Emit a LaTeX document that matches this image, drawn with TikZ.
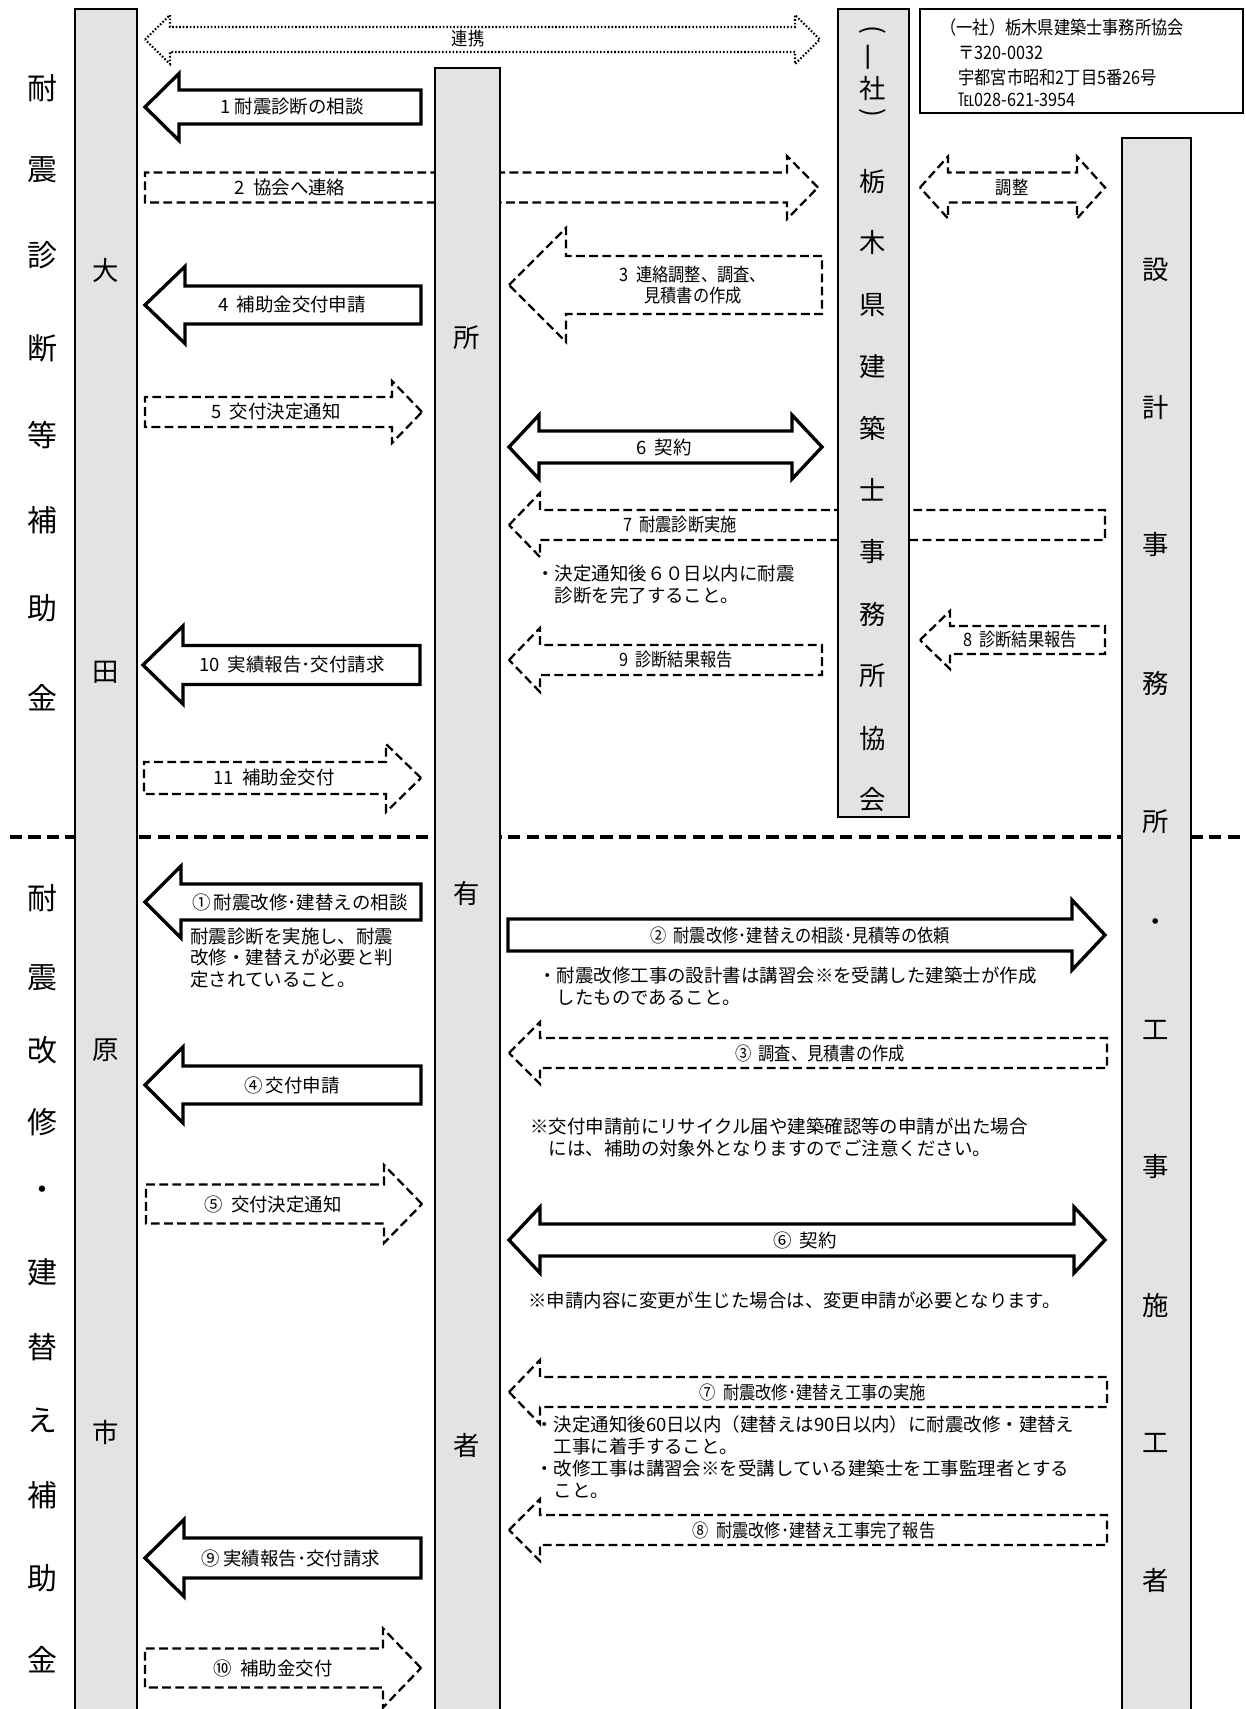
\documentclass[tikz,border=0pt]{standalone}
\usepackage{fontspec}
\setmainfont{Noto Sans CJK JP}
\newfontfamily\cond[FakeStretch=0.88]{Noto Sans CJK JP}
\usetikzlibrary{fit}
% block arrows: [style]{tip}{tail}{y}{shaft half}{head half}{head length}
\newcommand{\leftblk}[7][]{\draw[#1] (#2,#4) -- ({#2+#7},{#4-#6}) -- ({#2+#7},{#4-#5}) -- (#3,{#4-#5}) -- (#3,{#4+#5}) -- ({#2+#7},{#4+#5}) -- ({#2+#7},{#4+#6}) -- cycle;}
% [style]{tail}{tip}{y}{shaft half}{head half}{head length}
\newcommand{\rightblk}[7][]{\draw[#1] (#3,#4) -- ({#3-#7},{#4-#6}) -- ({#3-#7},{#4-#5}) -- (#2,{#4-#5}) -- (#2,{#4+#5}) -- ({#3-#7},{#4+#5}) -- ({#3-#7},{#4+#6}) -- cycle;}
% [style]{left tip}{right tip}{y}{shaft half}{head half}{head length}
\newcommand{\bothblk}[7][]{\draw[#1] (#2,#4) -- ({#2+#7},{#4-#6}) -- ({#2+#7},{#4-#5}) -- ({#3-#7},{#4-#5}) -- ({#3-#7},{#4-#6}) -- (#3,#4) -- ({#3-#7},{#4+#6}) -- ({#3-#7},{#4+#5}) -- ({#2+#7},{#4+#5}) -- ({#2+#7},{#4+#6}) -- cycle;}
\newcommand{\vparen}[1]{\rotatebox[origin=c]{-90}{#1}}

\begin{document}
\begin{tikzpicture}[x=0.02cm, y=-0.02cm,
	solidarr/.style={line width=1.9pt, fill=white, line join=miter},
	dasharr/.style={line width=1.3pt, fill=white, dash pattern=on 5pt off 2.5pt},
	dotarr/.style={line width=1.2pt, fill=white, dash pattern=on 0.9pt off 1.1pt},
	lbl/.style={font=\fontsize{10.5}{12}\selectfont, inner sep=0},
	clbl/.style={font={\cond\fontsize{10.5}{12}\selectfont}, inner sep=0},
	notetext/.style={font=\fontsize{10.5}{12.5}\selectfont, align=left, anchor=west, inner sep=0},
	colbar/.style={draw, line width=1pt, fill=gray!22, inner sep=0},
	colchar/.style={font=\fontsize{15}{15}\selectfont, inner sep=0},
	sidechar/.style={font=\fontsize{17}{17}\selectfont, inner sep=0},
	sepline/.style={line width=2pt, dash pattern=on 7pt off 3.5pt}]
	\clip (0,0) rectangle (1245,1709);

	% upper part: diagnosis
	\bothblk[dotarr]{145}{820}{39.5}{12.5}{24.5}{25}
	\node[clbl] (renkei) at (468,39) {連携};
	\leftblk[solidarr]{145}{421}{107}{17}{33.5}{34}
	\node[lbl] (u1) at (292,107) {1 耐震診断の相談};
	\rightblk[dasharr]{145}{818}{187.5}{15}{31.5}{31}
	\node[lbl] (u2) at (290,188) {2\ \ 協会へ連絡};
	\bothblk[dasharr]{920}{1105}{187.5}{15}{31}{28}
	\node[clbl] (chosei) at (1012,188) {調整};
	\leftblk[dasharr]{509}{822}{285}{29}{57}{57}
	\node[clbl, align=center] (u3) at (693,285) {3\ \ 連絡調整、調査、\\見積書の作成};
	\leftblk[solidarr]{145}{421}{305}{19}{38.5}{40}
	\node[lbl] (u4) at (292,305) {4\ \ 補助金交付申請};
	\rightblk[dasharr]{145}{422}{412}{15}{31}{30}
	\node[lbl] (u5) at (276,412) {5\ \ 交付決定通知};
	\bothblk[solidarr]{509}{822}{447}{16}{32}{30}
	\node[lbl] (u6) at (664,447) {6\ \ 契約};
	\leftblk[dasharr]{509}{1105}{525}{15}{32}{31}
	\node[clbl] (u7) at (680,525) {7\ \ 耐震診断実施};
	\node[notetext] (n7) at (536,585) {・決定通知後６０日以内に耐震\\\hspace*{1em}診断を完了すること。};
	\leftblk[dasharr]{920}{1105}{640}{14}{29}{30}
	\node[clbl] (u8) at (1020,640) {8\ \ 診断結果報告};
	\leftblk[dasharr]{509}{822}{660}{15}{32}{31}
	\node[clbl] (u9) at (676,660) {9\ \ 診断結果報告};
	\leftblk[solidarr]{143}{420}{665}{19.5}{39}{40}
	\node[lbl] (u10) at (292,665) {10\ \ 実績報告･交付請求};
	\rightblk[dasharr]{144}{421}{778}{16}{34}{35}
	\node[lbl] (u11) at (274,778) {11\ \ 補助金交付};

	% lower part: retrofit
	\leftblk[solidarr]{145}{421}{902}{18}{36}{36}
	\node[lbl] (l1) at (300,902) {①\,耐震改修･建替えの相談};
	\node[notetext] (n1) at (190,958) {耐震診断を実施し、耐震\\改修・建替えが必要と判\\定されていること。};
	\rightblk[solidarr]{508}{1105}{935}{16}{35}{33}
	\node[clbl] (l2) at (800,935) {②\ \ 耐震改修･建替えの相談･見積等の依頼};
	\node[notetext] (n2) at (538,986) {・耐震改修工事の設計書は講習会※を受講した建築士が作成\\\hspace*{1em}したものであること。};
	\leftblk[dasharr]{509}{1107}{1053}{15}{31}{31}
	\node[clbl] (l3) at (820,1053) {③\ \ 調査、見積書の作成};
	\leftblk[solidarr]{145}{421}{1085}{19}{38}{38}
	\node[lbl] (l4) at (292,1085) {④\,交付申請};
	\node[notetext] (n3) at (530,1137) {※交付申請前にリサイクル届や建築確認等の申請が出た場合\\\hspace*{1em}には、補助の対象外となりますのでご注意ください。};
	\rightblk[dasharr]{146}{422}{1204}{19.5}{39}{38}
	\node[lbl] (l5) at (273,1204) {⑤\ \ 交付決定通知};
	\bothblk[solidarr]{509}{1105}{1240}{16}{33}{31}
	\node[lbl] (l6) at (805,1240) {⑥\ \ 契約};
	\node[notetext] (n6) at (528,1300) {※申請内容に変更が生じた場合は、変更申請が必要となります。};
	\leftblk[dasharr]{509}{1107}{1392}{15}{32}{31}
	\node[clbl] (l7) at (813,1392) {⑦\ \ 耐震改修･建替え工事の実施};
	\node[notetext] (n7b) at (535,1457) {・決定通知後60日以内（建替えは90日以内）に耐震改修・建替え\\\hspace*{1em}工事に着手すること。\\・改修工事は講習会※を受講している建築士を工事監理者とする\\\hspace*{1em}こと。};
	\leftblk[dasharr]{509}{1107}{1530}{15}{31}{31}
	\node[clbl] (l8) at (814,1530) {⑧\ \ 耐震改修･建替え工事完了報告};
	\leftblk[solidarr]{145}{421}{1558}{20}{38.5}{39}
	\node[lbl] (l9) at (291,1558) {⑨\,実績報告･交付請求};
	\rightblk[dasharr]{145}{421}{1668}{19.5}{39.5}{38}
	\node[lbl] (l10) at (273,1668) {⑩\ \ 補助金交付};

	\draw[sepline] (10,837) -- (1245,837);

	% columns
	\node[colbar, fit={(75,9) (137,1730)}] (ota) {};
	\node[colbar, fit={(435,68) (500,1730)}] (owner) {};
	\node[colbar, fit={(838,9) (909,817)}] (assoc) {};
	\node[colbar, fit={(1122,138) (1191,1730)}] (office) {};
	\foreach \c/\y [count=\i] in {大/270,田/672,原/1050,市/1432}
		\node[colchar] (ota\i) at (106,\y) {\c};
	\foreach \c/\y [count=\i] in {所/338,有/893,者/1445}
		\node[colchar] (owner\i) at (467,\y) {\c};
	\foreach \c/\y [count=\i] in {{\vparen{(}}/32,{\rotatebox{90}{一}}/57,社/88,{\vparen{)}}/115,栃/182,木/243,県/305,建/367,築/428,士/490,事/552,務/614,所/676,協/738,会/800}
		\node[colchar] (assoc\i) at (873,\y) {\c};
	\foreach \c/\y [count=\i] in {設/270,計/408,事/545,務/683,所/822,・/925,工/1030,事/1167,施/1305,工/1443,者/1580}
		\node[colchar] (office\i) at (1156,\y) {\c};

	% side titles
	\foreach \c/\y [count=\i] in {耐/88,震/170,診/255,断/348,等/435,補/520,助/608,金/698}
		\node[sidechar] (sa\i) at (42,\y) {\c};
	\foreach \c/\y [count=\i] in {耐/898,震/978,改/1050,修/1122,・/1193,建/1272,替/1347,え/1420,補/1495,助/1578,金/1660}
		\node[sidechar] (sb\i) at (42,\y) {\c};

	% address
	\node[draw, line width=1pt, inner sep=0, fit={(920,9) (1243,113)}] (addr) {};
	\node[clbl, anchor=west] (ad1) at (940,27) {（一社）栃木県建築士事務所協会};
	\node[clbl, anchor=west] (ad2) at (958,53) {〒320-0032};
	\node[clbl, anchor=west] (ad3) at (958,77) {宇都宮市昭和2丁目5番26号};
	\node[clbl, anchor=west] (ad4) at (958,100) {℡028-621-3954};
\end{tikzpicture}
\end{document}
